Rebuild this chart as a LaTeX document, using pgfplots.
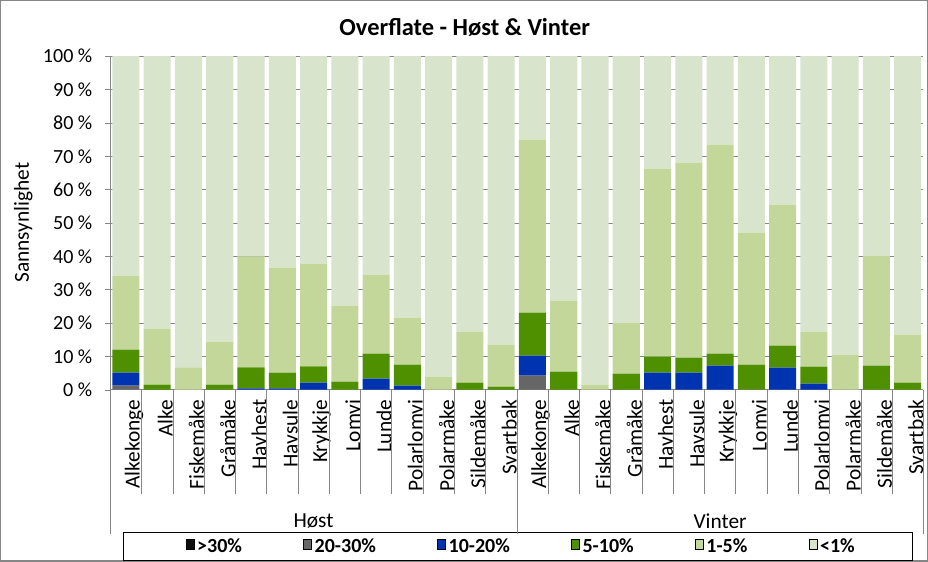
\documentclass[border=0pt]{standalone}
\usepackage{pgfplots}
\usepackage{pgfplotstable}
\pgfplotsset{compat=1.18}
\usepackage{fontspec}
\setmainfont{Carlito}
\definecolor{cA}{HTML}{0D0D0D}
\definecolor{cB}{HTML}{666666}
\definecolor{cC}{HTML}{0033B0}
\definecolor{cD}{HTML}{4E9000}
\definecolor{cE}{HTML}{C4D79B}
\definecolor{cF}{HTML}{D8E4CC}
\definecolor{axgray}{HTML}{868686}
\pgfplotsset{/pgfplots/ybar legend/.style={/pgfplots/legend image code/.code={\fill[##1] (0pt,-4.5pt) rectangle (7pt,4.5pt);}}}
\pgfplotstableread{
x a b c d e f
0 0 1.2 3.9 6.9 22.2 65.8
1 0 0 0 1.5 16.8 81.7
2 0 0 0 0 6.7 93.3
3 0 0 0 1.5 12.9 85.6
4 0 0 0.4 6.3 33.3 60.0
5 0 0 0.4 4.7 31.5 63.4
6 0 0 2.1 4.9 30.8 62.2
7 0 0 0 2.4 22.8 74.8
8 0 0 3.3 7.5 23.7 65.5
9 0 0 1.2 6.3 14.1 78.4
10 0 0 0 0 3.9 96.1
11 0 0 0 2.1 15.3 82.6
12 0 0 0 0.9 12.6 86.5
13 0 4.2 6.0 12.9 51.9 25.0
14 0 0 0 5.4 21.3 73.3
15 0 0 0 0 1.5 98.5
16 0 0 0 4.8 15.3 79.9
17 0 0 5.1 4.8 56.4 33.7
18 0 0 5.1 4.5 58.5 31.9
19 0 0 7.2 3.6 62.7 26.5
20 0 0 0 7.5 39.6 52.9
21 0 0 6.6 6.6 42.3 44.5
22 0 0 1.8 5.1 10.5 82.6
23 0 0 0 0 10.5 89.5
24 0 0 0 7.2 33.0 59.8
25 0 0 0 2.1 14.4 83.5
}\data
\begin{document}
\begin{tikzpicture}
\begin{axis}[
  scale only axis, width=609pt, height=249.75pt,
  ybar stacked, bar width=0.865,
  xmin=-0.5, xmax=25.5, ymin=0, ymax=100,
  clip=false,
  axis lines*=left,
  axis line style={axgray},
  xtick={0,...,25},
  xticklabels={Alkekonge,Alke,Fiskemåke,Gråmåke,Havhest,Havsule,Krykkje,Lomvi,Lunde,Polarlomvi,Polarmåke,Sildemåke,Svartbak,Alkekonge,Alke,Fiskemåke,Gråmåke,Havhest,Havsule,Krykkje,Lomvi,Lunde,Polarlomvi,Polarmåke,Sildemåke,Svartbak},
  x tick style={draw=none},
  x tick label style={rotate=90, anchor=east, yshift=-6pt, font=\fontsize{16}{16}\selectfont},
  ytick={0,10,...,100},
  yticklabels={0 \%,10 \%,20 \%,30 \%,40 \%,50 \%,60 \%,70 \%,80 \%,90 \%,100 \%},
  y tick label style={font=\fontsize{15}{15}\selectfont, xshift=-6pt},
  /pgf/number format/assume math mode=true,
  y tick style={axgray},
  tick align=outside, major tick length=4pt,
  ymajorgrids, grid style={axgray, line width=0.6pt},
  legend columns=6,
  legend cell align=left,
  legend style={draw=none, fill=none, at={(rel axis cs:0.506,-0.4715)}, anchor=center,
    font=\bfseries\fontsize{15}{15}\selectfont,
    /tikz/every even column/.append style={column sep=44pt}},
]
\addplot[ybar, fill=cA, draw=none] table[x=x,y=a]{\data};
\addplot[ybar, fill=cB, draw=none] table[x=x,y=b]{\data};
\addplot[ybar, fill=cC, draw=none] table[x=x,y=c]{\data};
\addplot[ybar, fill=cD, draw=none] table[x=x,y=d]{\data};
\addplot[ybar, fill=cE, draw=none] table[x=x,y=e]{\data};
\addplot[ybar, fill=cF, draw=none] table[x=x,y=f]{\data};
\legend{>30\%,20-30\%,10-20\%,5-10\%,1-5\%,<1\%}
\pgfplotsinvokeforeach{0.5,1.5,...,11.5,13.5,14.5,...,24.5}{
  \draw[axgray] (axis cs:#1,0) -- ++(0pt,-78pt);
}
\pgfplotsinvokeforeach{-0.5,12.5,25.5}{
  \draw[axgray] (axis cs:#1,0) -- ++(0pt,-108pt);
}
\node[font=\fontsize{16}{16}\selectfont] at (rel axis cs:0.25,-0.395) {Høst};
\node[font=\fontsize{16}{16}\selectfont] at (rel axis cs:0.75,-0.395) {Vinter};
\node[font=\bfseries\fontsize{18.3}{18.3}\selectfont] at (rel axis cs:0.43596,1.0871) {Overflate - Høst \& Vinter};
\node[rotate=90, font=\fontsize{16}{16}\selectfont] at (rel axis cs:-0.107,0.5015) {Sannsynlighet};
\draw[black, line width=0.8pt] (rel axis cs:0.0160,-0.4294) rectangle (rel axis cs:0.98645,-0.51351);
\draw[axgray, line width=1pt] (rel axis cs:-0.13485,1.16667) rectangle (rel axis cs:1.00493,-0.51351);
\end{axis}
\end{tikzpicture}
\end{document}
